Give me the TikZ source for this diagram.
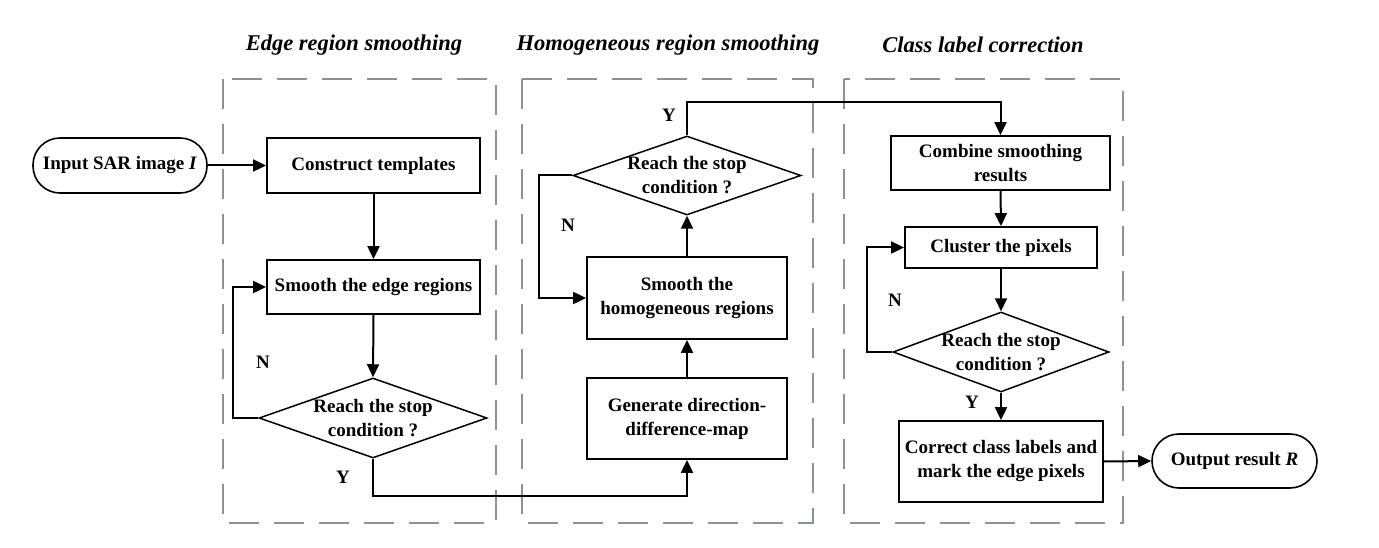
\documentclass[tikz,border=0pt]{standalone}
\usepackage{fontspec}
\setmainfont{Liberation Serif}
\usetikzlibrary{shapes.geometric,arrows.meta}
\definecolor{dashgray}{RGB}{140,145,152}
\begin{document}
\begin{tikzpicture}[x=1pt,y=-1pt,
  every node/.style={font=\fontsize{19}{24}\selectfont\bfseries, align=center, inner sep=0pt},
  box/.style={draw, line width=1.8pt, rectangle},
  term/.style={draw, line width=1.6pt, rectangle, rounded corners=27pt},
  dec/.style={draw, line width=1.5pt, diamond},
  arr/.style={line width=2pt, -{Triangle[length=13pt,width=12pt]}},
  region/.style={draw=dashgray, line width=1.8pt, dash pattern=on 30pt off 15pt},
  ttl/.style={font=\fontsize{22.5}{26}\selectfont\bfseries\itshape},
  yn/.style={font=\fontsize{19}{22}\selectfont\bfseries}
]
\useasboundingbox (0,0) rectangle (1379,548);
% regions
\draw[region] (223,79) rectangle (496,523);
\draw[region] (522,79) rectangle (813,523);
\draw[region] (844,79) rectangle (1123,523);
\node[ttl] (t1) at (354,45) {Edge region smoothing};
\node[ttl] (t2) at (668,45) {Homogeneous region smoothing};
\node[ttl] (t3) at (983,45) {Class label correction};
% nodes
\node[term, minimum width=174pt, minimum height=55pt] (in) at (120,165.5) {Input SAR image \textit{I}};
\node[box, minimum width=213pt, minimum height=55pt] (ct) at (373.5,165.5) {Construct templates};
\node[box, minimum width=213pt, minimum height=54pt] (se) at (373.5,287) {Smooth the edge regions};
\node[dec, minimum width=228pt, minimum height=80pt] (d1) at (373,418) {};
\node (d1t) at (373,418) {Reach the stop\\condition ?};
\node[box, minimum width=200pt, minimum height=81pt] (gen) at (687,418.5) {Generate direction-\\difference-map};
\node[box, minimum width=200pt, minimum height=82pt] (sh) at (687,298) {Smooth the\\homogeneous regions};
\node[dec, minimum width=228pt, minimum height=79pt] (d2) at (687,175.5) {};
\node (d2t) at (687,175.5) {Reach the stop\\condition ?};
\node[box, minimum width=219pt, minimum height=54pt] (cb) at (1000.5,163) {Combine smoothing\\results};
\node[box, minimum width=192pt, minimum height=41pt] (cl) at (1001,247.5) {Cluster the pixels};
\node[dec, minimum width=216pt, minimum height=80pt] (d3) at (1001,352) {};
\node (d3t) at (1001,352) {Reach the stop\\condition ?};
\node[box, minimum width=204pt, minimum height=81pt] (cc) at (1001,461.5) {Correct class labels and\\mark the edge pixels};
\node[term, minimum width=165pt, minimum height=54pt] (out) at (1234.5,461) {Output result \textit{R}};
% connectors
\draw[arr] (in.east) -- (ct.west);
\draw[arr] (ct.south) -- (se.north);
\draw[arr] (se.south) -- (d1.north);
\draw[arr] (d1.west) -- ++(-25,0) |- (se.west);
\draw[arr] (d1.south) -- ++(0,37) -| (gen.south);
\draw[arr] (gen.north) -- (sh.south);
\draw[arr] (sh.north) -- (d2.south);
\draw[arr] (d2.west) -- ++(-33,0) |- (sh.west);
\draw[arr] (d2.north) -- ++(0,-33) -| (cb.north);
\draw[arr] (cb.south) -- (cl.north);
\draw[arr] (cl.south) -- (d3.north);
\draw[arr] (d3.west) -- ++(-25,0) |- (cl.west);
\draw[arr] (d3.south) -- (cc.north);
\draw[arr] (cc.east) -- (out.west);
% labels
\node[yn] (n1) at (263,362) {N};
\node[yn] (y1) at (343,477) {Y};
\node[yn] (n2) at (568,225) {N};
\node[yn] (y2) at (669,115) {Y};
\node[yn] (n3) at (895,300) {N};
\node[yn] (y3) at (972,402) {Y};
\end{tikzpicture}
\end{document}
